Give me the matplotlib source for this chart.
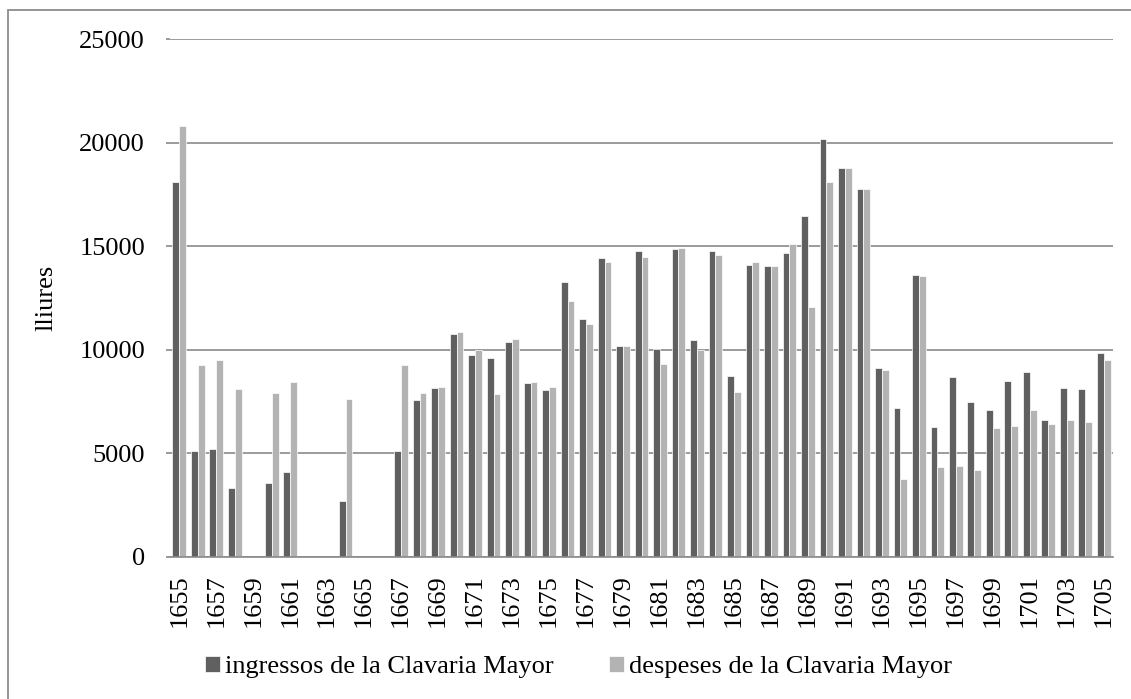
import numpy as np
import matplotlib
matplotlib.use("Agg")
import matplotlib.pyplot as plt
from matplotlib.patches import Rectangle

nan = np.nan
years = list(range(1655, 1706))
ingressos = [18080, 5110, 5180, 3320, nan, 3570, 4080, nan, nan, 2690, nan, nan,
             5110, 7570, 8150, 10750, 9750, 9590, 10350, 8400, 8030, 13280, 11490,
             14410, 10190, 14780, 10020, 14850, 10470, 14780, 8730, 14070, 14020,
             14650, 16480, 20190, 18770, 17780, 9100, 7200, 13620, 6240, 8700, 7470,
             7080, 8500, 8930, 6590, 8150, 8120, 9840]
despeses = [20790, 9280, 9490, 8100, nan, 7890, 8420, nan, nan, 7610, nan, nan,
            9280, 7890, 8210, 10860, 9980, 7840, 10520, 8450, 8210, 12370, 11230,
            14250, 10160, 14480, 9310, 14920, 9960, 14550, 7940, 14250, 14020,
            15090, 12050, 18100, 18800, 17750, 9030, 3760, 13550, 4340, 4390, 4160,
            6190, 6290, 7100, 6400, 6590, 6480, 9520]
yticks = [0, 5000, 10000, 15000, 20000, 25000]
labels = ["ingressos de la Clavaria Mayor", "despeses de la Clavaria Mayor"]
ylabel = "lliures"

plt.rcParams['font.family'] = ['Liberation Serif', 'DejaVu Serif']
W, H = 1131, 699
fig = plt.figure(figsize=(W / 100, H / 100), dpi=100)
ax = fig.add_axes([170 / W, 1 - 556.5 / H, (1113 - 170) / W, (556.5 - 39.3) / H])

x = np.arange(len(years))
bw = 0.37
dark = '#606060'
light = '#b3b3b3'
b1 = ax.bar(x - bw / 2, ingressos, width=bw, color=dark, edgecolor='white', linewidth=0.5, label=labels[0], zorder=3)
b2 = ax.bar(x + bw / 2, despeses, width=bw, color=light, edgecolor='white', linewidth=0.5, label=labels[1], zorder=3)

ax.set_xlim(-0.5, len(years) - 0.5)
ax.set_ylim(0, 25000)
ax.set_yticks(yticks)
ax.set_yticklabels([str(v) for v in yticks])
ax.set_xticks(x[::2])
ax.set_xticklabels([str(y) for y in years[::2]], rotation=90, va='top', ha='center')

ax.yaxis.grid(True, color='#8a8a8a', linewidth=1.2, zorder=0)
ax.set_axisbelow(True)
for s in ['top', 'right', 'left']:
    ax.spines[s].set_visible(False)
ax.spines['bottom'].set_color('#8a8a8a')
ax.spines['bottom'].set_linewidth(1.2)
ax.spines['bottom'].set_zorder(4)
ax.tick_params(axis='y', length=3, color='#8a8a8a', width=1.2, pad=15, labelsize=19)
ax.tick_params(axis='x', length=0, pad=13, labelsize=19)

ax.set_ylabel(ylabel, fontsize=19)
ax.yaxis.set_label_coords((57 - 170) / 943, 0.5)

fig.legend(handles=[b1, b2], labels=labels, loc='center', bbox_to_anchor=(578.5 / W, 1 - 667 / H),
           ncol=2, frameon=False, fontsize=19, handlelength=0.55, handleheight=0.55,
           handletextpad=0.2, columnspacing=2.1)

fig.patches.append(Rectangle((8 / W, -0.05), 1.1, 1 - 10 / H + 0.05, transform=fig.transFigure,
                             fill=False, edgecolor='#8c8c8c', linewidth=1.3))

fig.savefig('out.png', dpi=100)
